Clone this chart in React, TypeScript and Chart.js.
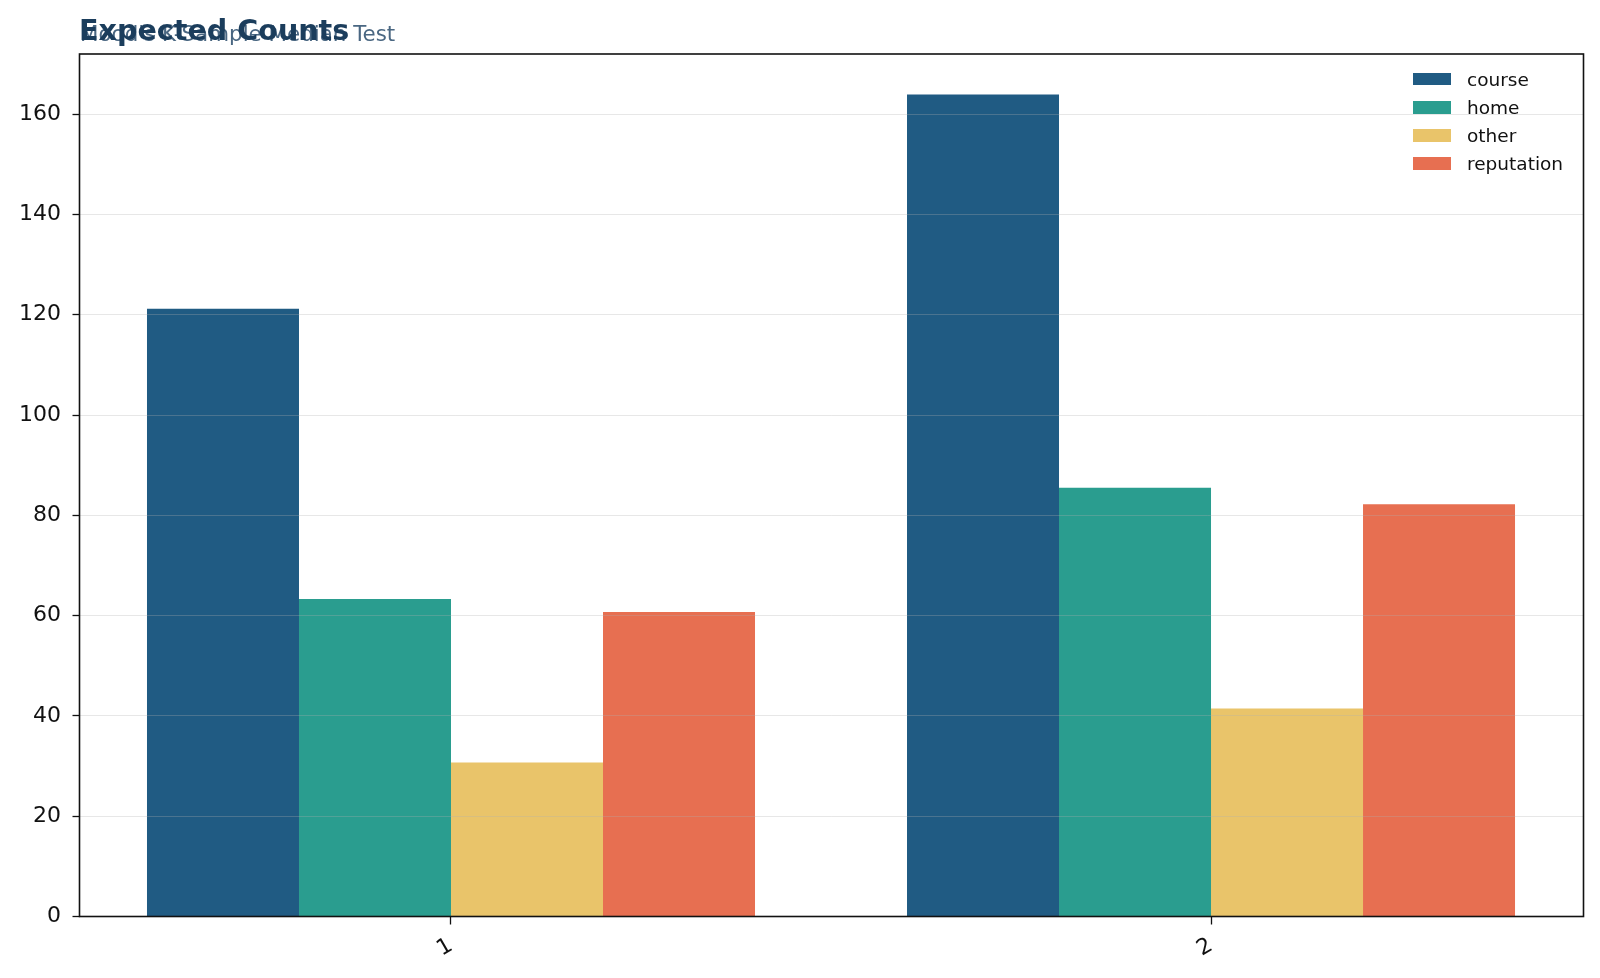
import { useEffect, useRef } from "react";
import { Chart, ChartConfiguration, registerables } from "chart.js";

Chart.register(...registerables);

const categories = ["1", "2"];
const seriesNames = ["course", "home", "other", "reputation"];
const course = [121.2, 163.9];
const home = [63.3, 85.5];
const other = [30.7, 41.5];
const reputation = [60.7, 82.2];
const yTicks = [0, 20, 40, 60, 80, 100, 120, 140, 160];

const colors = ["#205b83", "#2a9d8f", "#e9c46a", "#e76f51"];
const FONT = "'DejaVu Sans', sans-serif";

// black box round the plot area, like matplotlib spines
const framePlugin = {
  id: "frame",
  afterDraw(chart: Chart) {
    const { ctx, chartArea } = chart;
    ctx.save();
    ctx.strokeStyle = "#111";
    ctx.lineWidth = 1.6;
    ctx.strokeRect(chartArea.left, chartArea.top, chartArea.right - chartArea.left, chartArea.bottom - chartArea.top);
    ctx.restore();
  },
};

export default function App() {
  const canvasRef = useRef<HTMLCanvasElement>(null);
  const chartRef = useRef<Chart | null>(null);

  useEffect(() => {
    if (!canvasRef.current) return;
    const ctx = canvasRef.current.getContext("2d");
    if (!ctx) return;
    if (chartRef.current) chartRef.current.destroy();

    const values = [course, home, other, reputation];

    const config: ChartConfiguration = {
      type: "bar",
      data: {
        datasets: seriesNames.map((name, i) => ({
          label: name,
          data: values[i].map((y, j) => ({ x: j, y })),
          backgroundColor: colors[i],
          borderWidth: 0,
          categoryPercentage: 0.8,
          barPercentage: 1.0,
        })),
      },
      options: {
        responsive: true,
        maintainAspectRatio: false,
        animation: false,
        layout: { padding: { left: 0, top: 54, right: 16.5, bottom: 0 } },
        plugins: {
          legend: { display: false },
          tooltip: { enabled: false },
        },
        scales: {
          x: {
            type: "linear",
            offset: false,
            min: -0.4888,
            max: 1.4901,
            grid: {
              display: true,
              offset: false,
              drawOnChartArea: false,
              tickColor: "#111",
              tickLength: 8,
              tickWidth: 1.3,
            },
            border: { display: false },
            ticks: {
              color: "#111",
              font: { family: FONT, size: 22 },
              maxRotation: 30,
              minRotation: 30,
              padding: 8,
              callback: (_v: any, i: number) => categories[i],
            },
            afterBuildTicks: (scale: any) => {
              scale.ticks = categories.map((_c, i) => ({ value: i }));
            },
            afterFit: (scale: any) => {
              scale.height = 61.5;
            },
          },
          y: {
            min: 0,
            max: 172,
            grid: {
              color: "rgba(176,176,176,0.3)",
              lineWidth: 1,
              tickColor: "#111",
              tickLength: 7,
              tickWidth: 1.3,
              z: 1,
            },
            border: { display: false },
            ticks: {
              color: "#111",
              font: { family: FONT, size: 22 },
              padding: 11.5,
            },
            afterBuildTicks: (scale: any) => {
              scale.ticks = yTicks.map((v) => ({ value: v }));
            },
            afterFit: (scale: any) => {
              scale.width = 79.5;
            },
          },
        },
      },
      plugins: [framePlugin],
    };

    chartRef.current = new Chart(ctx, config);
    return () => {
      if (chartRef.current) {
        chartRef.current.destroy();
        chartRef.current = null;
      }
    };
  }, []);

  return (
    <div style={{ position: "fixed", left: 0, top: 0, width: 1600, height: 978, background: "#fff", fontFamily: FONT }}>
      <canvas ref={canvasRef}></canvas>
      <div style={{ position: "absolute", left: 80, top: 20.5, fontSize: 21.4, color: "#4a6782", whiteSpace: "nowrap" }}>
        Mood's K-Sample Median Test
      </div>
      <div style={{ position: "absolute", left: 79, top: 13, fontSize: 28.6, fontWeight: "bold", color: "#1b3d5c", whiteSpace: "nowrap" }}>
        Expected Counts
      </div>
      <div style={{ position: "absolute", left: 1413, top: 65.3 }}>
        {seriesNames.map((name, i) => (
          <div key={name} style={{ display: "flex", alignItems: "center", height: 28.1 }}>
            <div style={{ width: 38, height: 12.3, background: colors[i], marginRight: 16 }}></div>
            <span style={{ fontSize: 18.5, color: "#111" }}>{name}</span>
          </div>
        ))}
      </div>
    </div>
  );
}
